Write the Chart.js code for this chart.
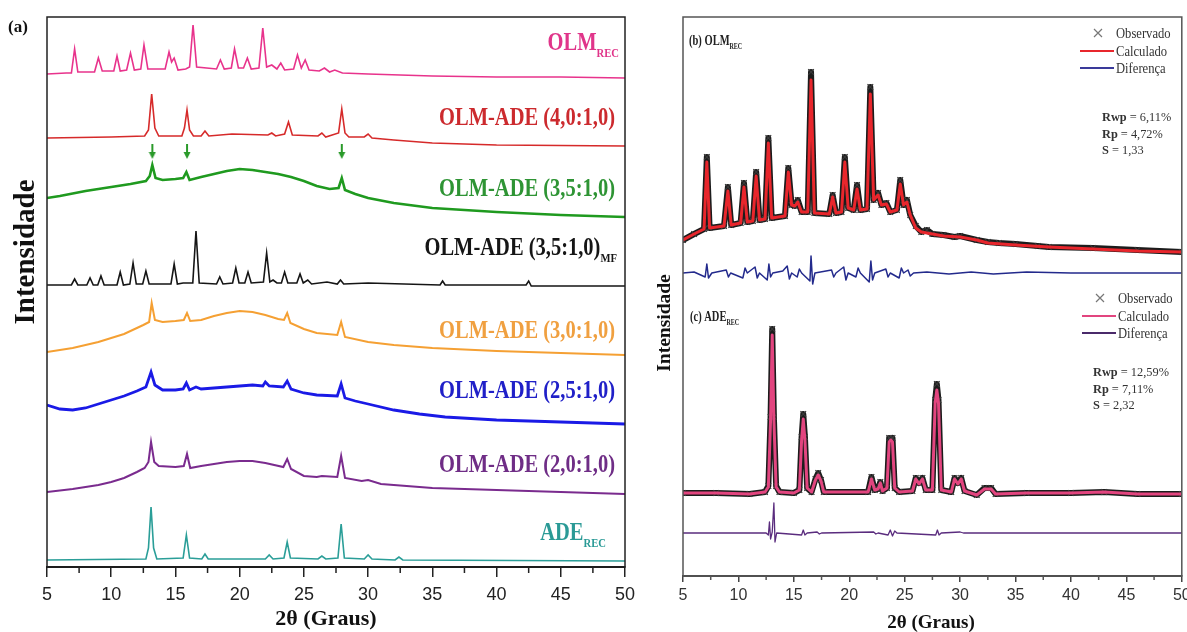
<!DOCTYPE html>
<html>
<head>
<meta charset="utf-8">
<script src="https://cdn.jsdelivr.net/npm/chart.js@4.4.0/dist/chart.umd.min.js"></script>
<style>
  html, body { margin: 0; padding: 0; background: #fff; overflow: hidden; }
  #left { position: absolute; left: 0; top: 0; }
  #right { position: absolute; left: 640px; top: 0; }
</style>
</head>
<body>
<canvas id="left" width="640" height="632"></canvas>
<canvas id="right" width="547" height="632"></canvas>
<script>
// ---- Panel (a): patterns as [2theta, intensity above own baseline] ----
const OLM_REC = [[5,4],[6.5,5],[6.9,5],[7.15,29],[7.4,6],[8.7,6],[9.0,20],[9.3,7],[10.2,7],[10.45,22],[10.7,7],[11.2,8],[11.5,25],[11.8,8],[12.3,9],[12.55,33],[12.85,9],[14.2,9],[14.5,26],[14.7,16],[14.9,20],[15.2,8],[15.8,9],[16.1,11],[16.37,53],[16.65,11],[18.2,9],[18.5,18],[18.8,9],[19.35,10],[19.6,29],[19.9,10],[20.3,10],[20.6,20],[20.9,9],[21.5,10],[21.8,50],[22.1,11],[22.5,13],[22.9,9],[23.2,15],[23.5,8],[24.2,9],[24.5,23],[24.8,10],[25.1,18],[25.4,8],[26.2,7],[26.6,10],[27.0,6],[27.4,8],[28,5],[30,4],[35,2],[40,1],[45,1],[50,0]];
const ADE_40 = [[5,8],[10,9],[12.6,10],[12.9,16],[13.15,52],[13.4,18],[13.7,10],[15.5,10],[15.7,18],[15.9,36],[16.1,16],[16.4,10],[17.0,10],[17.3,15],[17.6,10],[19.4,12],[22.2,11],[22.5,13],[22.8,10],[23.5,12],[23.8,24],[24.1,11],[26.1,10],[26.4,13],[26.7,9],[27.7,13],[27.95,37],[28.2,13],[28.5,9],[29.7,9],[30.0,12],[30.3,8],[32,6],[35,3],[40,1],[50,0]];
const ADE_35 = [[5,19],[6,21],[8,26],[10,30],[11.5,33],[12.7,36],[13.0,41],[13.2,52],[13.45,39],[14,37],[15,38],[15.6,39],[15.85,45],[16.1,37],[17,40],[18,43],[19,46],[20,48],[21,47],[22,45],[23,43],[24,40],[25,36],[26,31],[27,28],[27.7,29],[27.95,39],[28.2,27],[29,23],[30,19],[32,14],[35,9],[40,5],[45,2],[50,0]];
const ADE_35_MF = [[5,1],[6.9,1],[7.15,7],[7.4,1],[8.1,1],[8.35,8],[8.6,1],[8.95,1],[9.2,10],[9.45,1],[10.45,1],[10.7,14],[10.95,1],[11.45,2],[11.7,23],[11.95,2],[12.45,2],[12.7,15],[12.95,2],[14.65,2],[14.9,22],[15.15,2],[15.6,3],[16.35,3],[16.6,55],[16.85,3],[18.2,2],[18.45,9],[18.7,2],[19.45,3],[19.7,18],[19.95,3],[20.4,3],[20.65,14],[20.9,3],[21.85,4],[22.1,33],[22.35,4],[22.6,6],[22.9,3],[23.25,3],[23.5,14],[23.75,3],[24.45,3],[24.7,12],[24.95,3],[25.3,6],[25.6,2],[26.8,4],[27.6,2],[27.85,6],[28.1,2],[30,3],[35.6,1],[35.8,5],[36,1],[42.3,1],[42.5,5],[42.7,0],[50,0]];
const ADE_30 = [[5,3],[7,7],[9,13],[11,21],[12.5,30],[12.95,33],[13.15,52],[13.4,35],[14,33],[15,34],[15.65,35],[15.9,42],[16.15,34],[17,35],[18,39],[19,42],[20,44],[21,43],[22,40],[23,36],[23.45,35],[23.7,42],[23.95,32],[25,26],[26,22],[27.6,20],[27.9,33],[28.2,18],[30,13],[32,10],[35,7],[40,4],[45,2],[50,0]];
const ADE_25 = [[5,19],[6,15],[7,14],[8,16],[9,20],[10,24],[11,28],[12,33],[12.7,37],[13.1,52],[13.4,39],[14,34],[15,34],[15.6,35],[15.85,41],[16.1,34],[16.6,37],[17,35],[18,36],[19,37],[20,38],[21,39],[21.8,38],[22,42],[22.3,38],[23.4,37],[23.7,43],[24.0,35],[25,31],[26,29],[27.6,28],[27.9,40],[28.2,26],[29,23],[30,20],[32,14],[34,10],[36,7],[40,4],[45,2],[50,0]];
const ADE_20 = [[5,2],[7,5],[9,9],[10,12],[11,16],[12,22],[12.6,26],[12.9,32],[13.1,52],[13.35,32],[13.7,28],[15,27],[15.65,28],[15.9,40],[16.15,26],[17,28],[18,30],[19,32],[20,33],[21,33],[22,31],[23.4,27],[23.7,35],[24.0,25],[25,18],[26,17],[26.4,18],[27.6,17],[27.9,38],[28.2,16],[29.5,13],[30,14],[31,10],[35,6],[40,4],[45,2],[50,0]];
const ADE_REC = [[5,1],[12.7,2],[12.9,13],[13.1,54],[13.3,13],[13.55,2],[15.6,3],[15.85,26],[16.1,3],[17.05,2],[17.3,7],[17.55,2],[22.0,2],[22.3,6],[22.6,2],[23.45,3],[23.7,19],[23.95,3],[26.1,2],[26.4,5],[26.7,2],[27.65,3],[27.9,37],[28.15,3],[29.7,2],[30.0,6],[30.3,2],[32.1,1],[32.4,4],[32.7,1],[50,0]];
// baselines of the stacked patterns, top to bottom
const OFFSETS_A = [489, 421, 350, 281, 212, 143, 73, 6];
// markers over the OLM-ADE (3,5:1,0) peaks
const ARROWS_A = [[13.2, 65], [15.9, 65], [27.95, 65]];

// ---- Panels (b) and (c): Rietveld plots ----
const CALC_B = [[5,12],[6,18],[6.9,23],[7.15,90],[7.4,24],[8.7,26],[9.05,61],[9.35,27],[10.2,29],[10.5,65],[10.8,30],[11.3,31],[11.6,76],[11.9,32],[12.4,33],[12.7,109],[13.0,34],[14.2,36],[14.5,80],[14.8,47],[15.1,46],[15.35,50],[15.7,40],[16.25,40],[16.55,172],[16.85,39],[18.2,38],[18.5,55],[18.8,39],[19.3,40],[19.6,90],[19.9,44],[20.4,42],[20.7,63],[21.0,42],[21.6,43],[21.9,158],[22.2,52],[22.6,57],[22.9,47],[23.35,48],[23.7,40],[24.3,42],[24.6,68],[24.9,47],[25.2,50],[25.5,37],[26.0,24],[26.5,20],[27.5,18],[28.5,16],[30,15],[31.5,12],[32.5,9],[35,7],[38,5],[42,3],[46,1],[50,0]];
const OBS_B = [[5,12],[6,18],[6.9,23],[7.15,95],[7.4,24],[8.7,26],[9.05,65],[9.35,27],[10.2,29],[10.5,69],[10.8,30],[11.3,31],[11.6,80],[11.9,32],[12.4,33],[12.7,114],[13.0,34],[14.2,36],[14.5,84],[14.8,47],[15.1,46],[15.35,52],[15.7,40],[16.25,40],[16.55,180],[16.85,39],[18.2,38],[18.5,57],[18.8,39],[19.3,40],[19.6,95],[19.9,44],[20.4,42],[20.7,67],[21.0,42],[21.6,43],[21.9,165],[22.2,52],[22.6,59],[22.9,47],[23.35,49],[23.7,40],[24.3,42],[24.6,72],[24.9,47],[25.2,52],[25.5,37],[26.0,26],[26.5,20],[27.0,22],[27.5,18],[28.5,17],[29.5,15],[30,16],[31.5,12],[32.5,10],[33.5,9],[35,8],[37,6],[38,5],[42,4],[46,2],[50,0]];
const DIFF_B = [[5,0],[6,1],[7.0,-4],[7.15,9],[7.3,-5],[7.6,0],[8.9,3],[9.1,-4],[9.3,0],[10.4,-5],[10.6,5],[10.8,0],[11.5,6],[11.7,-5],[11.9,0],[12.6,-7],[12.75,9],[12.9,-4],[13.1,0],[14.0,2],[14.4,7],[14.6,-6],[14.8,0],[15.3,-4],[15.5,4],[15.7,0],[16.45,-8],[16.55,17],[16.7,-11],[16.9,0],[18.4,3],[18.6,-4],[18.8,0],[19.5,6],[19.7,-7],[19.9,0],[20.6,-4],[20.8,5],[21.0,0],[21.8,-9],[21.95,12],[22.1,-7],[22.3,0],[23.3,4],[23.5,-4],[23.7,0],[24.5,-5],[24.7,5],[24.9,0],[25.3,3],[25.5,-3],[25.8,0],[27,1],[29,-1],[31,1],[33,-1],[36,1],[40,0],[50,0]];
const CALC_C = [[5,2],[8,2],[11,1],[12.4,3],[12.7,8],[12.9,75],[13.05,160],[13.2,75],[13.4,8],[13.7,3],[15.0,2],[15.5,5],[15.7,55],[15.85,76],[16.0,55],[16.2,7],[16.6,3],[16.95,15],[17.2,20],[17.45,14],[17.7,3],[21.7,3],[22.0,16],[22.3,5],[22.6,6],[22.8,12],[23.0,4],[23.4,7],[23.6,53],[23.75,55],[23.9,53],[24.1,7],[24.5,3],[25.7,4],[26.0,16],[26.3,11],[26.6,16],[26.9,5],[27.5,5],[27.75,92],[27.9,105],[28.05,92],[28.3,5],[29.2,3],[29.5,16],[29.8,11],[30.1,16],[30.4,4],[31.5,0],[32.2,6],[32.8,6],[33.2,1],[36,2],[40,2],[43,3],[46,1],[50,1]];
const OBS_C = [[5,2],[8,2],[11,1],[12.4,3],[12.7,9],[12.9,78],[13.05,166],[13.2,78],[13.4,9],[13.7,3],[15.0,2],[15.5,5],[15.7,58],[15.85,81],[16.0,58],[16.2,7],[16.6,3],[16.95,16],[17.2,22],[17.45,15],[17.7,3],[21.7,3],[22.0,18],[22.3,5],[22.6,6],[22.8,13],[23.0,4],[23.4,7],[23.6,57],[23.75,56],[23.9,57],[24.1,7],[24.5,3],[25.7,4],[26.0,17],[26.3,12],[26.6,17],[26.9,5],[27.5,5],[27.75,95],[27.9,111],[28.05,95],[28.3,5],[29.2,3],[29.5,17],[29.8,12],[30.1,17],[30.4,4],[31.5,0],[32.2,7],[32.8,7],[33.2,1],[36,2],[40,2],[43,3],[46,1],[50,1]];
const DIFF_C = [[5,0],[12.5,0],[12.7,-2],[12.8,11],[12.9,-6],[13.05,1],[13.2,30],[13.3,-9],[13.45,0],[15.7,-2],[15.85,3],[16.0,-2],[16.2,0],[17.1,1],[17.3,-1],[17.5,0],[22.2,1],[22.4,-1],[22.6,0],[23.5,-2],[23.7,3],[23.9,-3],[24.1,2],[24.3,0],[27.8,-2],[27.95,3],[28.1,-2],[28.3,0],[30,1],[30.3,0],[50,0]];
const OFFSET_B = 324, OFFSET_B_DIFF = 303, OFFSET_C = 81, OFFSET_C_DIFF = 43;

const STATS_B = [['Rwp', ' = 6,11%'], ['Rp', ' = 4,72%'], ['S', ' = 1,33']];
const STATS_C = [['Rwp', ' = 12,59%'], ['Rp', ' = 7,11%'], ['S', ' = 2,32']];

// ---- helpers ----
const SERIF = '"Liberation Serif", "Times New Roman", serif';
const SANS = '"Liberation Sans", Arial, sans-serif';
const serif = (size, bold) => (bold ? 'bold ' : '') + size + 'px ' + SERIF;
const toPoints = (arr, offset) => arr.map(([x, y]) => ({ x: x, y: y + offset }));

function drawParts(ctx, parts, x, y, align, sx, color) {
    ctx.save();
    ctx.textBaseline = 'alphabetic';
    ctx.textAlign = 'left';
    let total = 0;
    const widths = parts.map(p => {
        ctx.font = p.font;
        const w = ctx.measureText(p.text).width;
        total += w;
        return w;
    });
    let start = x;
    if (align === 'right') start = x - total * sx;
    else if (align === 'center') start = x - total * sx / 2;
    ctx.translate(start, y);
    ctx.scale(sx, 1);
    let cx = 0;
    parts.forEach((p, i) => {
        ctx.font = p.font;
        ctx.fillStyle = color;
        ctx.fillText(p.text, cx, p.dy || 0);
        cx += widths[i];
    });
    ctx.restore();
}

function drawRotated(ctx, text, cx, cy, font, color) {
    ctx.save();
    ctx.translate(cx, cy);
    ctx.rotate(-Math.PI / 2);
    ctx.font = font;
    ctx.fillStyle = color;
    ctx.textAlign = 'center';
    ctx.textBaseline = 'middle';
    ctx.fillText(text, 0, 0);
    ctx.restore();
}

function drawFrame(chart, minorLen, color) {
    const { ctx, chartArea: ca, scales: { x } } = chart;
    ctx.save();
    ctx.strokeStyle = color;
    ctx.lineWidth = 1.5;
    ctx.strokeRect(ca.left, ca.top, ca.right - ca.left, ca.bottom - ca.top);
    // minor ticks between the labelled ones
    ctx.beginPath();
    for (let v = 7.5; v < 50; v += 5) {
        const px = x.getPixelForValue(v);
        ctx.moveTo(px, ca.bottom);
        ctx.lineTo(px, ca.bottom + minorLen);
    }
    ctx.stroke();
    ctx.restore();
}

// arrow marker used over the green pattern
function makeArrow(color) {
    const c = document.createElement('canvas');
    c.width = 8; c.height = 16;
    const g = c.getContext('2d');
    g.strokeStyle = color; g.fillStyle = color; g.lineWidth = 2;
    g.beginPath(); g.moveTo(4, 0); g.lineTo(4, 9); g.stroke();
    g.beginPath(); g.moveTo(0.5, 8); g.lineTo(7.5, 8); g.lineTo(4, 15); g.closePath(); g.fill();
    return c;
}

// ---- panel (a) ----
const TRACES_A = [
    { data: OLM_REC, color: '#e8338c', width: 1.6 },
    { data: ADE_40, color: '#d62a2a', width: 1.6 },
    { data: ADE_35, color: '#1f9a1f', width: 2.6 },
    { data: ADE_35_MF, color: '#151515', width: 1.6 },
    { data: ADE_30, color: '#f5a033', width: 2.0 },
    { data: ADE_25, color: '#1a1ae6', width: 2.8 },
    { data: ADE_20, color: '#7a2b8e', width: 2.0 },
    { data: ADE_REC, color: '#2a9e98', width: 1.6 },
];

const LABELS_A = [
    { main: 'OLM', sub: 'REC', color: '#e0358a', right: 619, base: 50 },
    { main: 'OLM-ADE (4,0:1,0)', color: '#cc2a2e', right: 615, base: 125 },
    { main: 'OLM-ADE (3,5:1,0)', color: '#2e9434', right: 615, base: 196 },
    { main: 'OLM-ADE (3,5:1,0)', sub: 'MF', color: '#151515', right: 617, base: 255 },
    { main: 'OLM-ADE (3,0:1,0)', color: '#f0a040', right: 615, base: 338 },
    { main: 'OLM-ADE (2,5:1,0)', color: '#2020c8', right: 615, base: 398 },
    { main: 'OLM-ADE (2,0:1,0)', color: '#6f2d86', right: 615, base: 472 },
    { main: 'ADE', sub: 'REC', color: '#2a9a96', right: 606, base: 540 },
];

const datasetsA = TRACES_A.map((t, i) => ({
    data: toPoints(t.data, OFFSETS_A[i]),
    borderColor: t.color,
    borderWidth: t.width,
    pointRadius: 0,
    tension: 0,
    fill: false,
}));
datasetsA.push({
    data: toPoints(ARROWS_A, OFFSETS_A[2]),
    showLine: false,
    pointStyle: makeArrow('#2a9a2a'),
    pointRadius: 8,
});

const decorA = {
    id: 'decorA',
    afterDraw(chart) {
        const ctx = chart.ctx;
        drawFrame(chart, 6, '#222');
        LABELS_A.forEach(l => {
            const parts = [{ text: l.main, font: serif(25, true) }];
            if (l.sub) parts.push({ text: l.sub, font: serif(13, true), dy: 7 });
            drawParts(ctx, parts, l.right, l.base, 'right', 0.82, l.color);
        });
        drawParts(ctx, [{ text: '(a)', font: serif(17, true) }], 8, 32, 'left', 1, '#111');
        drawRotated(ctx, 'Intensidade', 27, 252, serif(29, true), '#111');
        ctx.save();
        ctx.font = serif(22, true);
        ctx.fillStyle = '#111';
        ctx.textAlign = 'center';
        ctx.textBaseline = 'middle';
        ctx.fillText('2θ (Graus)', 326, 619);
        ctx.restore();
    }
};

new Chart(document.getElementById('left'), {
    type: 'line',
    data: { datasets: datasetsA },
    options: {
        responsive: false,
        animation: false,
        events: [],
        layout: { padding: { left: 47, right: 15, top: 17, bottom: 0 } },
        plugins: { legend: { display: false }, tooltip: { enabled: false } },
        scales: {
            x: {
                type: 'linear',
                min: 5,
                max: 50,
                ticks: {
                    stepSize: 5,
                    padding: 7,
                    color: '#222',
                    maxRotation: 0,
                    font: { family: SANS, size: 18 },
                },
                grid: { drawOnChartArea: false, tickLength: 10, color: '#222', lineWidth: 1.5 },
                border: { display: true, color: '#111', width: 2 },
                afterFit: (s) => { s.height = 65; s.paddingLeft = 0; s.paddingRight = 0; },
            },
            y: { display: false, min: 0, max: 550 },
        },
    },
    plugins: [decorA],
});

// ---- panels (b) and (c) ----
const datasetsB = [
    { data: toPoints(CALC_B, OFFSET_B), borderColor: '#e8262c', borderWidth: 3, pointRadius: 0, order: 1 },
    { data: toPoints(OBS_B, OFFSET_B), borderColor: '#1c1c1c', borderWidth: 6, pointStyle: 'crossRot',
      pointRadius: 4, pointBorderColor: '#3a3a3a', pointBorderWidth: 1.2, order: 2 },
    { data: toPoints(DIFF_B, OFFSET_B_DIFF), borderColor: '#232a8c', borderWidth: 1.5, pointRadius: 0, order: 1 },
    { data: toPoints(CALC_C, OFFSET_C), borderColor: '#e2457f', borderWidth: 3, pointRadius: 0, order: 1 },
    { data: toPoints(OBS_C, OFFSET_C), borderColor: '#1c1c1c', borderWidth: 6, pointStyle: 'crossRot',
      pointRadius: 4, pointBorderColor: '#3a3a3a', pointBorderWidth: 1.2, order: 2 },
    { data: toPoints(DIFF_C, OFFSET_C_DIFF), borderColor: '#5a2c7e', borderWidth: 1.3, pointRadius: 0, order: 1 },
];
datasetsB.forEach(d => {
    d.tension = 0;
    d.fill = false;
    d.borderJoinStyle = 'round';
    d.borderCapStyle = 'round';
});

function drawLegend(ctx, x, y, calcColor, diffColor) {
    ctx.save();
    ctx.strokeStyle = '#777';
    ctx.lineWidth = 1.2;
    ctx.beginPath();
    ctx.moveTo(x - 22, y - 4); ctx.lineTo(x - 14, y + 4);
    ctx.moveTo(x - 22, y + 4); ctx.lineTo(x - 14, y - 4);
    ctx.stroke();
    ctx.lineWidth = 2;
    ctx.strokeStyle = calcColor;
    ctx.beginPath(); ctx.moveTo(x - 36, y + 18); ctx.lineTo(x - 2, y + 18); ctx.stroke();
    ctx.strokeStyle = diffColor;
    ctx.beginPath(); ctx.moveTo(x - 36, y + 35); ctx.lineTo(x - 2, y + 35); ctx.stroke();
    ctx.restore();
    ['Observado', 'Calculado', 'Diferença'].forEach((t, i) => {
        drawParts(ctx, [{ text: t, font: serif(14, false) }], x, y + 5 + i * 17.5, 'left', 0.9, '#333');
    });
}

function drawStats(ctx, stats, x, y) {
    stats.forEach((s, i) => {
        drawParts(ctx, [{ text: s[0], font: serif(13, true) }, { text: s[1], font: serif(13, false) }],
            x, y + i * 16.5, 'left', 0.95, '#333');
    });
}

const decorB = {
    id: 'decorB',
    afterDraw(chart) {
        const ctx = chart.ctx;
        drawFrame(chart, 4, '#555');
        drawParts(ctx, [{ text: '(b) OLM', font: serif(14, true) }, { text: 'REC', font: serif(8, true), dy: 4 }],
            49, 45, 'left', 0.75, '#222');
        drawParts(ctx, [{ text: '(c) ADE', font: serif(14, true) }, { text: 'REC', font: serif(8, true), dy: 4 }],
            50, 321, 'left', 0.75, '#222');
        drawLegend(ctx, 476, 33, '#e8262c', '#3a3a9a');
        drawLegend(ctx, 478, 298, '#e2457f', '#4a2a6a');
        drawStats(ctx, STATS_B, 462, 121);
        drawStats(ctx, STATS_C, 453, 376);
        drawRotated(ctx, 'Intensidade', 25, 323, serif(19.5, true), '#111');
        ctx.save();
        ctx.font = serif(19, true);
        ctx.fillStyle = '#111';
        ctx.textAlign = 'center';
        ctx.textBaseline = 'middle';
        ctx.fillText('2θ (Graus)', 291, 623);
        ctx.restore();
    }
};

new Chart(document.getElementById('right'), {
    type: 'line',
    data: { datasets: datasetsB },
    options: {
        responsive: false,
        animation: false,
        events: [],
        layout: { padding: { left: 43, right: 4, top: 17, bottom: 0 } },
        plugins: { legend: { display: false }, tooltip: { enabled: false } },
        scales: {
            x: {
                type: 'linear',
                min: 5,
                max: 50,
                ticks: {
                    stepSize: 5,
                    padding: 4,
                    color: '#333',
                    maxRotation: 0,
                    font: { family: SANS, size: 16 },
                },
                grid: { drawOnChartArea: false, tickLength: 6, color: '#444', lineWidth: 1.5 },
                border: { display: true, color: '#444', width: 2 },
                afterFit: (s) => { s.height = 56; s.paddingLeft = 0; s.paddingRight = 0; },
            },
            y: { display: false, min: 0, max: 559 },
        },
    },
    plugins: [decorB],
});
</script>
</body>
</html>
